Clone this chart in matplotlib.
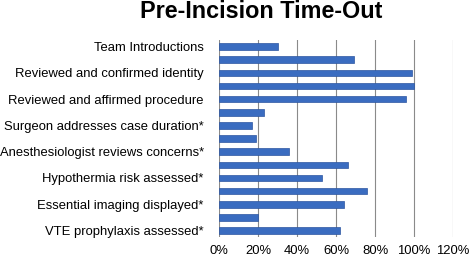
import numpy as np
from matplotlib import pyplot as plt

plt.rcParams['font.family'] = ['Liberation Sans', 'DejaVu Sans']

# bars listed top to bottom, only every other one carries a label
valores = [30, 69, 99, 100, 96, 23, 17, 19, 36, 66, 53, 76, 64, 20, 62]
rotulos = ['Team Introductions', 'Reviewed and confirmed identity',
           'Reviewed and affirmed procedure', 'Surgeon addresses case duration*',
           'Anesthesiologist reviews concerns*', 'Hypothermia risk assessed*',
           'Essential imaging displayed*', 'VTE prophylaxis assessed*']
xticks = [0, 20, 40, 60, 80, 100, 120]

fig = plt.figure(figsize=(4.72, 2.58), dpi=100)
ax = fig.add_axes([0.464, 0.081, 0.496, 0.764])

y = np.arange(len(valores))
ax.barh(y, valores, height=0.5, color='#3a6cc0', edgecolor='#2c56a0', linewidth=0.5, zorder=3)

ax.set_ylim(len(valores) - 0.5, -0.5)
ax.set_xlim(0, 120)
ax.set_yticks(y[::2])
ax.set_yticklabels(rotulos, fontsize=9.4)
ax.set_xticks(xticks)
ax.set_xticklabels([f'{v}%' for v in xticks], fontsize=9.4)
ax.tick_params(axis='both', length=0)
ax.tick_params(axis='y', pad=11)
ax.tick_params(axis='x', pad=6)
ax.grid(axis='x', color='#8a8a8a', linewidth=0.8, zorder=0)
for s in ax.spines.values():
    s.set_visible(False)

fig.text(0.554, 0.932, 'Pre-Incision Time-Out', fontsize=16.8, fontweight='bold',
         ha='center', va='baseline')

plt.savefig('out.png')
